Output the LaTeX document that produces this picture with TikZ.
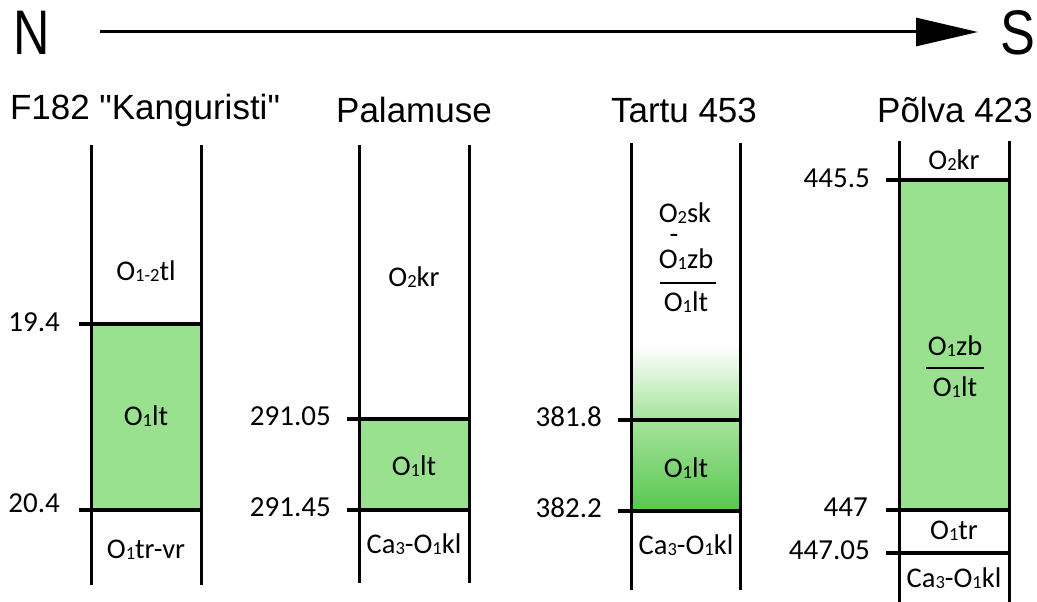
\documentclass[tikz,border=0pt]{standalone}
\usepackage{fontspec}
\setmainfont{Carlito}
\newfontfamily\titlefont{Liberation Sans}
\usetikzlibrary{arrows.meta}
\definecolor{grn}{RGB}{153,224,143}
\definecolor{grnA}{RGB}{165,228,155}
\definecolor{grnB}{RGB}{88,198,78}
\newcommand\sbd[1]{\raisebox{-1pt}{\fontsize{18.5}{19}\selectfont #1}}
\tikzset{
  lbl/.style={font=\fontsize{28.5}{30}\selectfont, inner sep=0pt},
  num/.style={font=\fontsize{29}{31}\selectfont, inner sep=0pt, anchor=east},
  ttl/.style={font=\titlefont\fontsize{35}{38}\selectfont, inner sep=0pt},
  vline/.style={line width=3pt},
  hline/.style={line width=3.5pt},
}
\begin{document}
\begin{tikzpicture}[x=1pt,y=-1pt]
\useasboundingbox (0,0) rectangle (1037,602);
% header
\node[font=\titlefont\fontsize{63}{63}\selectfont, xscale=0.8, inner sep=0pt] (N) at (32,33) {N};
\node[font=\titlefont\fontsize{63}{63}\selectfont, xscale=0.83, inner sep=0pt] (S) at (1018,33) {S};
\coordinate (a0) at (100,32);
\coordinate (a1) at (978,32);
\draw[line width=3pt, -{Triangle[length=62pt,width=28pt]}] (a0) -- (a1);
% titles
\node[ttl] (t1) at (145,110) {F182 "Kanguristi"};
\node[ttl] (t2) at (414,110) {Palamuse};
\node[ttl] (t3) at (684,110) {Tartu 453};
\node[ttl] (t4) at (955,110) {Põlva 423};

% column 1
\fill[grn] (91,324) rectangle (201,510);
\draw[vline] (91,145) -- (91,585);
\draw[vline] (201,145) -- (201,585);
\draw[hline] (79,324) -- (201,324);
\draw[hline] (79,510) -- (201,510);
\node[num] (n11) at (60,322) {19.4};
\node[num] (n12) at (60,503) {20.4};
\node[lbl] (c1a) at (146,271) {O\sbd{1-2}tl};
\node[lbl] (c1b) at (146,416) {O\sbd{1}lt};
\node[lbl] (c1c) at (146,550) {O\sbd{1}tr-vr};

% column 2
\fill[grn] (359,419) rectangle (469,510);
\draw[vline] (359,145) -- (359,583);
\draw[vline] (469,145) -- (469,583);
\draw[hline] (347,419) -- (469,419);
\draw[hline] (347,510) -- (469,510);
\node[num] (n21) at (331,416) {291.05};
\node[num] (n22) at (331,507) {291.45};
\node[lbl] (c2a) at (414,277) {O\sbd{2}kr};
\node[lbl] (c2b) at (414,466) {O\sbd{1}lt};
\node[lbl] (c2c) at (414,544) {Ca\sbd{3}-O\sbd{1}kl};

% column 3
\shade[top color=white, bottom color=grnA] (631,345) rectangle (740,420);
\shade[top color=grnA, bottom color=grnB] (631,420) rectangle (740,511);
\draw[vline] (631,143) -- (631,590);
\draw[vline] (740,143) -- (740,590);
\draw[hline] (618,420) -- (740,420);
\draw[hline] (618,511) -- (740,511);
\node[num] (n31) at (602,417) {381.8};
\node[num] (n32) at (602,508) {382.2};
\node[lbl] (c3a) at (685,213) {O\sbd{2}sk};
\node[lbl, text height=9pt, text depth=0pt] (c3d) at (674,239) {-};
\node[lbl] (c3b) at (686,259) {O\sbd{1}zb};
\coordinate (f3a) at (660,283);
\coordinate (f3b) at (716,283);
\draw[line width=1.5pt] (f3a) -- (f3b);
\node[lbl] (c3c) at (686,302) {O\sbd{1}lt};
\node[lbl] (c3e) at (686,468) {O\sbd{1}lt};
\node[lbl] (c3f) at (686,545) {Ca\sbd{3}-O\sbd{1}kl};

% column 4
\fill[grn] (899,180) rectangle (1009,510);
\draw[vline] (899,141) -- (899,602);
\draw[vline] (1009,141) -- (1009,602);
\draw[hline] (886,180) -- (1009,180);
\draw[hline] (886,510) -- (1009,510);
\draw[hline] (886,553) -- (1009,553);
\node[num] (n41) at (870,178) {445.5};
\node[num] (n42) at (868,507) {447};
\node[num] (n43) at (870,550) {447.05};
\node[lbl] (c4a) at (954,160) {O\sbd{2}kr};
\node[lbl] (c4b) at (955,346) {O\sbd{1}zb};
\coordinate (f4a) at (926,368);
\coordinate (f4b) at (984,368);
\draw[line width=1.5pt] (f4a) -- (f4b);
\node[lbl] (c4c) at (955,387) {O\sbd{1}lt};
\node[lbl] (c4d) at (954,531) {O\sbd{1}tr};
\node[lbl] (c4e) at (954,578) {Ca\sbd{3}-O\sbd{1}kl};
\end{tikzpicture}
\end{document}
